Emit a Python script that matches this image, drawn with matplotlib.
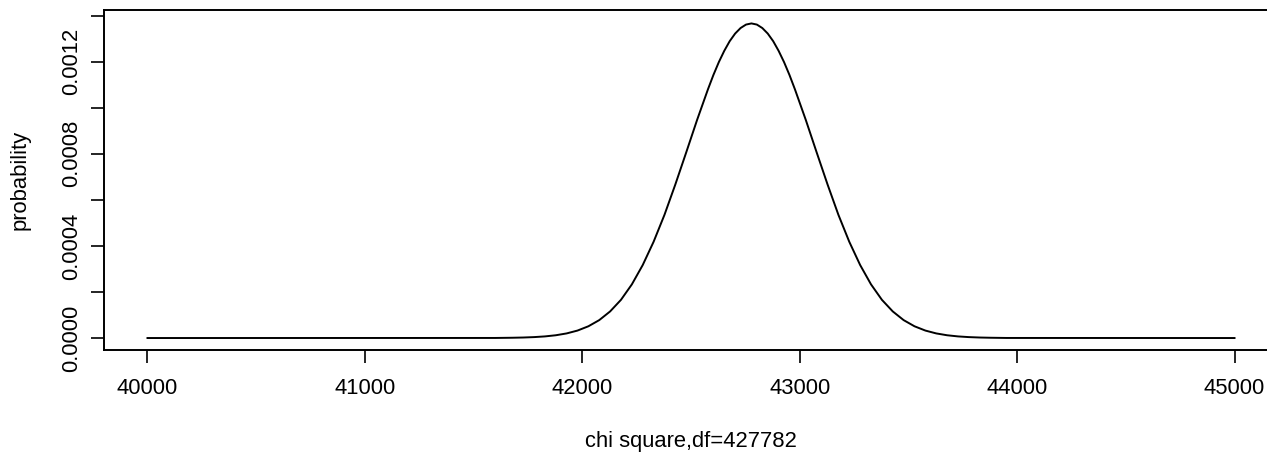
import matplotlib
matplotlib.use("Agg")
import matplotlib.pyplot as plt

plt.rcParams['font.family'] = ['Liberation Sans', 'DejaVu Sans']

# density values
chisq = [40000, 41600, 41678, 41728, 41778, 41828, 41878, 41928, 41978, 42028,
         42078, 42128, 42178, 42228, 42278, 42328, 42378, 42428, 42478, 42528,
         42578, 42603, 42628, 42653, 42678, 42703, 42728, 42753, 42778, 42803,
         42828, 42853, 42878, 42903, 42928, 42953, 42978, 43028,
         43078, 43128, 43178, 43228, 43278, 43328, 43378, 43428, 43478, 43528,
         43578, 43628, 43678, 43728, 43778, 43828, 43878, 43950, 45000]
prob = [0.0, 0.0000003, 0.0000012, 0.0000022, 0.0000040, 0.0000070, 0.0000120, 0.0000200, 0.0000324, 0.0000510,
        0.0000778, 0.0001155, 0.000166, 0.000233, 0.000317, 0.000418, 0.000535, 0.000667, 0.000806, 0.000947,
        0.001080, 0.001142, 0.001198, 0.001247, 0.001289, 0.001322, 0.001346, 0.001361, 0.001366, 0.001361,
        0.001346, 0.001322, 0.001289, 0.001247, 0.001198, 0.001142, 0.001080, 0.000947,
        0.000806, 0.000667, 0.000535, 0.000418, 0.000317, 0.000233, 0.000166, 0.0001155, 0.0000778, 0.0000510,
        0.0000324, 0.0000200, 0.0000120, 0.0000070, 0.0000040, 0.0000022, 0.0000012, 0.0000003, 0.0]

xticks = [40000, 41000, 42000, 43000, 44000, 45000]
yticks_lab = [0.0, 0.0004, 0.0008, 0.0012]
yticks_min = [0.0002, 0.0006, 0.0010, 0.0014]

W, H = 1267, 455
fig = plt.figure(figsize=(W/100, H/100), dpi=100)
ax = fig.add_axes([104/W, 1-350/H, (1278-104)/W, (350-10.3)/H])

ax.plot(chisq, prob, color="black", lw=1.4)
ax.set_xlim(39800, 45200)
ax.set_ylim(-0.000052, 0.001423)

ax.set_xticks(xticks)
ax.set_xticklabels([str(t) for t in xticks])
ax.set_yticks(yticks_lab)
ax.set_yticklabels(["%.4f" % t for t in yticks_lab], rotation=90, va="center")
ax.set_yticks(yticks_min, minor=True)

fs = 15.8
ax.tick_params(axis="both", which="both", length=9.4, width=1.2, labelsize=fs)
ax.tick_params(axis="x", pad=11)
ax.tick_params(axis="y", pad=6)
for s in ax.spines.values():
    s.set_linewidth(1.4)

fig.text(20/W, 1-180/H, "probability", rotation=90, ha="center", va="center", fontsize=fs)
fig.text(691/W, 1-441/H, "chi square,df=427782", ha="center", va="center", fontsize=fs)

fig.savefig("out.png", dpi=100)
